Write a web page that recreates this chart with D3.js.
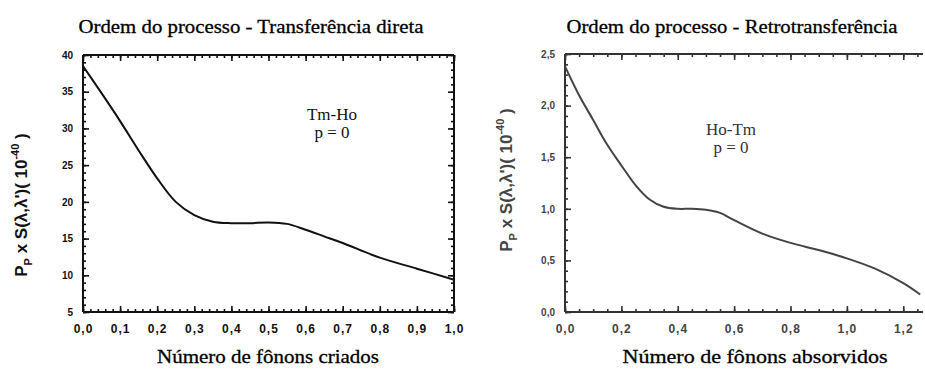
<!DOCTYPE html>
<html><head><meta charset="utf-8">
<script src="https://cdn.jsdelivr.net/npm/d3@7"></script>
<style>
body{margin:0;background:#fff;}
svg{display:block;}
.tick text{font-family:"Liberation Sans",Arial,sans-serif;font-weight:bold;}
</style></head>
<body><svg id="c" width="925" height="369"></svg>
<script>
// Left panel data: direct transfer Tm-Ho
const leftX = [0.00,0.05,0.10,0.15,0.20,0.25,0.30,0.35,0.40,0.45,0.50,0.55,0.60,0.65,0.70,0.80,0.90,1.00];
const leftY = [38.5,34.8,31.0,27.0,23.2,20.0,18.2,17.3,17.1,17.1,17.2,17.0,16.2,15.3,14.4,12.4,10.9,9.4];
// Right panel data: back transfer Ho-Tm
const rightX = [0.00,0.05,0.10,0.15,0.20,0.25,0.30,0.35,0.40,0.45,0.50,0.55,0.60,0.70,0.80,0.90,1.00,1.10,1.20,1.26];
const rightY = [2.38,2.10,1.86,1.62,1.42,1.23,1.09,1.02,1.00,1.00,0.99,0.96,0.89,0.76,0.67,0.60,0.52,0.42,0.28,0.17];
const leftXTicks = [0,0.1,0.2,0.3,0.4,0.5,0.6,0.7,0.8,0.9,1.0];
const leftYTicks = [5,10,15,20,25,30,35,40];
const rightXTicks = [0,0.2,0.4,0.6,0.8,1.0,1.2];
const rightYTicks = [0,0.5,1.0,1.5,2.0,2.5];

const svg = d3.select("#c");
const comma = (d, dec) => d3.format("." + dec + "f")(d).replace(".", ",");

function panel(o){
  const g = svg.append("g");
  const x = d3.scaleLinear().domain(o.xDom).range([o.x0, o.x1]);
  const y = d3.scaleLinear().domain(o.yDom).range([o.y1, o.y0]);
  const col = o.color;
  const mk = (axis, tv, len) => axis.tickValues(tv).tickSize(len).tickFormat("");
  const minorX = d3.range(o.xDom[0], o.xDom[1] + 1e-9, o.xMinor);
  const minorY = d3.range(o.yDom[0], o.yDom[1] + 1e-9, o.yMinor);
  const st = sel => { sel.select(".domain").remove(); sel.selectAll("line").attr("stroke", col).attr("stroke-width", 1.6); };
  // bottom (inward)
  g.append("g").attr("transform", `translate(0,${o.y1})`).call(mk(d3.axisBottom(x), minorX, -3)).call(st);
  g.append("g").attr("transform", `translate(0,${o.y1})`).call(d3.axisBottom(x).tickValues(o.xTicks).tickSize(-6).tickPadding(12)
    .tickFormat(d => comma(d,1))).call(st)
    .selectAll("text").attr("font-size", 12).attr("fill", o.labelColor).attr("letter-spacing", "1px");
  // top
  g.append("g").attr("transform", `translate(0,${o.y0})`).call(mk(d3.axisTop(x), minorX, -3)).call(st);
  g.append("g").attr("transform", `translate(0,${o.y0})`).call(mk(d3.axisTop(x), o.xTicks, -6)).call(st);
  // left
  g.append("g").attr("transform", `translate(${o.x0},0)`).call(mk(d3.axisLeft(y), minorY, -3)).call(st);
  g.append("g").attr("transform", `translate(${o.x0},0)`).call(d3.axisLeft(y).tickValues(o.yTicks).tickSize(-6).tickPadding(10)
    .tickFormat(o.yFmt)).call(st)
    .selectAll("text").attr("font-size", 10).attr("fill", o.labelColor);
  // right
  if (o.rightAxis){
    g.append("g").attr("transform", `translate(${o.x1},0)`).call(mk(d3.axisRight(y), minorY, -3)).call(st);
    g.append("g").attr("transform", `translate(${o.x1},0)`).call(mk(d3.axisRight(y), o.yTicks, -6)).call(st);
  }
  // frame
  const fr = g.append("g").attr("stroke", col).attr("stroke-width", 2).attr("fill", "none");
  fr.append("line").attr("x1", o.x0).attr("x2", o.x1).attr("y1", o.y0).attr("y2", o.y0);
  fr.append("line").attr("x1", o.x0).attr("x2", o.x1).attr("y1", o.y1).attr("y2", o.y1);
  fr.append("line").attr("x1", o.x0).attr("x2", o.x0).attr("y1", o.y0).attr("y2", o.y1);
  if (o.rightAxis) fr.append("line").attr("x1", o.x1).attr("x2", o.x1).attr("y1", o.y0).attr("y2", o.y1);
  // curve
  const pts = o.xs.map((v,i)=>[v,o.ys[i]]);
  g.append("path").datum(pts).attr("fill","none").attr("stroke", o.lineColor).attr("stroke-width", 2)
    .attr("d", d3.line().x(d=>x(d[0])).y(d=>y(d[1])).curve(d3.curveCatmullRom.alpha(0.5)));
  // title
  g.append("text").attr("x", o.tx).attr("y", 33).attr("text-anchor","middle")
    .attr("font-family","'Liberation Serif','Times New Roman',serif").attr("font-size", 19)
    .attr("stroke","#000").attr("stroke-width",0.3)
    .attr("textLength", o.tw).attr("lengthAdjust","spacingAndGlyphs").text(o.title);
  // x label
  g.append("text").attr("x", o.xlx).attr("y", 363).attr("text-anchor","middle")
    .attr("font-family","'Liberation Serif','Times New Roman',serif").attr("font-size", 19)
    .attr("stroke","#000").attr("stroke-width",0.3)
    .attr("textLength", o.xlw).attr("lengthAdjust","spacingAndGlyphs").text(o.xlabel);
  // y label
  const yl = g.append("text").attr("transform", `translate(${o.ylx},${o.yly}) rotate(-90)`)
    .attr("text-anchor","middle").attr("font-family","'Liberation Sans',Arial,sans-serif")
    .attr("font-size", 17).attr("font-weight","bold").attr("fill", o.labelColor);
  yl.append("tspan").text("P");
  yl.append("tspan").attr("font-size", 11).attr("dy", 5).text("P");
  yl.append("tspan").attr("dy", -5).text(" x S(λ,λ')( 10");
  yl.append("tspan").attr("font-size", 11).attr("dy", -8).text("-40");
  yl.append("tspan").attr("dy", 8).text(" )");
  // annotations
  const an = g.append("g").attr("font-family","'Liberation Serif','Times New Roman',serif").attr("font-size", 17).attr("text-anchor","middle").attr("fill", col);
  an.append("text").attr("x", o.ax).attr("y", o.ay).text(o.a1);
  an.append("text").attr("x", o.ax).attr("y", o.ay + 18).text("p = 0");
}

panel({x0:83, x1:454, y0:55, y1:312, xDom:[0,1], yDom:[5,40], xTicks:leftXTicks, yTicks:leftYTicks,
  xMinor:0.02, yMinor:1, yFmt:d=>String(d), rightAxis:true, color:"#111", lineColor:"#111", labelColor:"#111",
  xs:leftX, ys:leftY, title:"Ordem do processo - Transferência direta", tx:251, tw:345,
  xlabel:"Número de fônons criados", xlx:268, xlw:222, ylx:27, yly:205, ax:332, ay:120, a1:"Tm-Ho"});

panel({x0:565, x1:923, y0:54, y1:312, xDom:[0,1.27], yDom:[0,2.5], xTicks:rightXTicks, yTicks:rightYTicks,
  xMinor:0.05, yMinor:0.1, yFmt:d=>comma(d,1), rightAxis:false, color:"#333", lineColor:"#444", labelColor:"#444",
  xs:rightX, ys:rightY, title:"Ordem do processo - Retrotransferência", tx:732, tw:331,
  xlabel:"Número de fônons absorvidos", xlx:755, xlw:265, ylx:512, yly:180, ax:731, ay:135, a1:"Ho-Tm"});
</script></body></html>
